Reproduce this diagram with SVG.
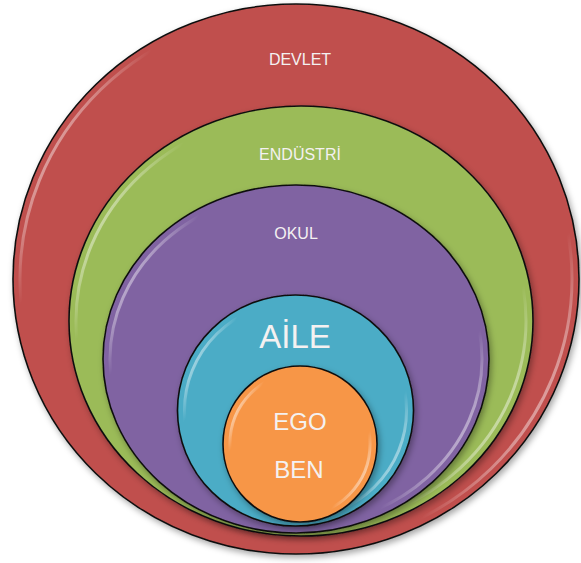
<svg xmlns="http://www.w3.org/2000/svg" width="581" height="563" viewBox="0 0 581 563">
  <defs>
    <filter id="shadow" x="-10%" y="-10%" width="120%" height="120%">
      <feDropShadow dx="2" dy="3" stdDeviation="3" flood-color="#000000" flood-opacity="0.35"/>
    </filter>
    <linearGradient id="gloss" x1="0" y1="0.25" x2="1" y2="0.75">
      <stop offset="0" stop-color="#ffffff" stop-opacity="0.75"/>
      <stop offset="0.12" stop-color="#ffffff" stop-opacity="0"/>
      <stop offset="0.86" stop-color="#ffffff" stop-opacity="0"/>
      <stop offset="1" stop-color="#ffffff" stop-opacity="0.7"/>
    </linearGradient>
  </defs>
  <style>
    .ring { stroke: #111111; stroke-width: 1.6; filter: url(#shadow); }
    .gloss { fill: none; stroke: url(#gloss); stroke-width: 3; }
    .lbl { font-family: "Liberation Sans", Arial, sans-serif; fill: #F4F1F1; text-anchor: middle; }
  </style>
  <rect width="581" height="563" fill="#ffffff"/>

  <g id="devlet">
    <ellipse class="ring" cx="296" cy="279" rx="283" ry="275" fill="#C0504D"/>
    <ellipse class="gloss" cx="296" cy="279" rx="276" ry="268"/>
    <text class="lbl" x="300" y="65" font-size="16">DEVLET</text>
  </g>

  <g id="endustri">
    <ellipse class="ring" cx="301" cy="321" rx="232" ry="215" fill="#9BBB59"/>
    <ellipse class="gloss" cx="301" cy="321" rx="225" ry="208"/>
    <text class="lbl" x="300" y="160" font-size="16">ENDÜSTRİ</text>
  </g>

  <g id="okul">
    <ellipse class="ring" cx="296" cy="359" rx="193" ry="174" fill="#8064A2"/>
    <ellipse class="gloss" cx="296" cy="359" rx="186" ry="167"/>
    <text class="lbl" x="296" y="239" font-size="16">OKUL</text>
  </g>

  <g id="aile">
    <ellipse class="ring" cx="295.5" cy="410.5" rx="118" ry="115.5" fill="#4BACC6"/>
    <ellipse class="gloss" cx="295.5" cy="410.5" rx="111" ry="108.5"/>
    <text class="lbl" x="295" y="348" font-size="33">AİLE</text>
  </g>

  <g id="ego">
    <ellipse class="ring" cx="300" cy="444" rx="77" ry="78" fill="#F79646"/>
    <ellipse class="gloss" cx="300" cy="444" rx="70" ry="71"/>
    <text class="lbl" x="300" y="430" font-size="24">EGO</text>
    <text class="lbl" x="299" y="478" font-size="24">BEN</text>
  </g>
</svg>
